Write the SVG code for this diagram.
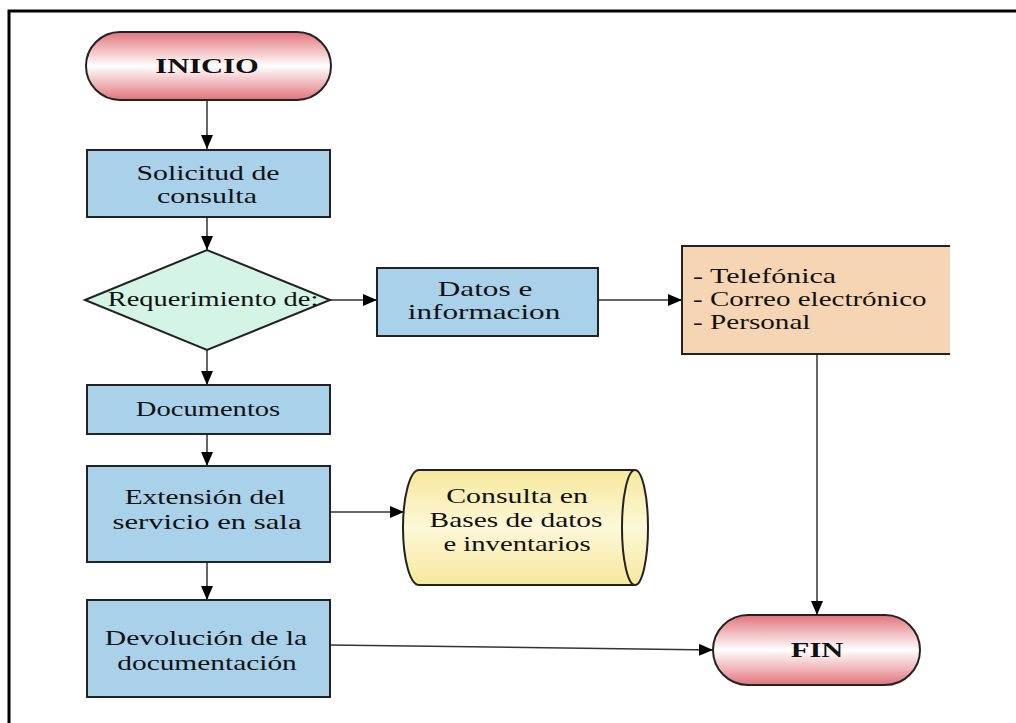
<svg xmlns="http://www.w3.org/2000/svg" width="1016" height="723" viewBox="0 0 1016 723">
<defs>
<linearGradient id="gRed" x1="0" y1="0" x2="0" y2="1">
<stop offset="0" stop-color="#e2747b"/>
<stop offset="0.5" stop-color="#ffffff"/>
<stop offset="1" stop-color="#e2747b"/>
</linearGradient>
<linearGradient id="gYel" x1="0" y1="0" x2="0" y2="1">
<stop offset="0" stop-color="#f6e89c"/>
<stop offset="0.5" stop-color="#fdf8d8"/>
<stop offset="1" stop-color="#f6e89c"/>
</linearGradient>
<marker id="arr" markerWidth="14" markerHeight="12" refX="14" refY="6" orient="auto" markerUnits="userSpaceOnUse">
<path d="M0,0 L14,6 L0,12 Z" fill="#000"/>
</marker>
<style>
.box{fill:#a9d1ea;stroke:#222;stroke-width:2}
.term{fill:url(#gRed);stroke:#222;stroke-width:2}
.t{font-family:"Liberation Serif","Times New Roman",serif;font-size:21px;fill:#111;text-anchor:middle}
.tl{font-family:"Liberation Serif","Times New Roman",serif;font-size:21px;fill:#111}
.b{font-weight:bold;font-size:20px}
.c{fill:none;stroke:#333;stroke-width:1.5}
</style>
</defs>
<rect x="0" y="0" width="1016" height="723" fill="#fff"/>
<path d="M9,723 V11 H1016" fill="none" stroke="#000" stroke-width="3"/>

<g id="connectors">
<line class="c" x1="207" y1="100" x2="207" y2="149" marker-end="url(#arr)"/>
<line class="c" x1="207" y1="217" x2="207" y2="250" marker-end="url(#arr)"/>
<line class="c" x1="330" y1="300" x2="377" y2="300" marker-end="url(#arr)"/>
<line class="c" x1="598" y1="300" x2="682" y2="300" marker-end="url(#arr)"/>
<line class="c" x1="207" y1="350" x2="207" y2="385" marker-end="url(#arr)"/>
<line class="c" x1="207" y1="434" x2="207" y2="466" marker-end="url(#arr)"/>
<line class="c" x1="330" y1="512" x2="404" y2="512" marker-end="url(#arr)"/>
<line class="c" x1="207" y1="562" x2="207" y2="600" marker-end="url(#arr)"/>
<line class="c" x1="330" y1="645" x2="713" y2="650" marker-end="url(#arr)"/>
<line class="c" x1="817" y1="354" x2="817" y2="615" marker-end="url(#arr)"/>
</g>

<g id="inicio">
<rect class="term" x="86" y="32" width="245" height="68" rx="34" ry="34"/>
<text class="t b" transform="matrix(1.5,0,0,1,207,73)" textLength="69" lengthAdjust="spacingAndGlyphs">INICIO</text>
</g>

<g id="solicitud">
<rect class="box" x="87" y="150" width="243" height="67"/>
<text class="t" transform="matrix(1.35,0,0,1,208,180)" textLength="106" lengthAdjust="spacingAndGlyphs">Solicitud de</text>
<text class="t" transform="matrix(1.35,0,0,1,207,203)" textLength="74" lengthAdjust="spacingAndGlyphs">consulta</text>
</g>

<g id="requerimiento">
<polygon points="85,300 207,250 330,300 207,350" fill="#d4f5e6" stroke="#222" stroke-width="2"/>
<text class="t" transform="matrix(1.35,0,0,1,213,306)" textLength="156" lengthAdjust="spacingAndGlyphs">Requerimiento de:</text>
</g>

<g id="datos">
<rect class="box" x="377" y="268" width="221" height="68"/>
<text class="t" transform="matrix(1.35,0,0,1,485,296)" textLength="70" lengthAdjust="spacingAndGlyphs">Datos e</text>
<text class="t" transform="matrix(1.35,0,0,1,484,319)" textLength="113" lengthAdjust="spacingAndGlyphs">informacion</text>
</g>

<g id="medios">
<rect x="682" y="246" width="268" height="108" fill="#f5d5b3"/>
<path d="M950,246 H682 V354 H950" fill="none" stroke="#222" stroke-width="2"/>
<text class="tl" transform="matrix(1.35,0,0,1,693,283)" textLength="106" lengthAdjust="spacingAndGlyphs">- Telefónica</text>
<text class="tl" transform="matrix(1.35,0,0,1,693,306)" textLength="173" lengthAdjust="spacingAndGlyphs">- Correo electrónico</text>
<text class="tl" transform="matrix(1.35,0,0,1,693,329)" textLength="87" lengthAdjust="spacingAndGlyphs">- Personal</text>
</g>

<g id="documentos">
<rect class="box" x="87" y="385" width="243" height="49"/>
<text class="t" transform="matrix(1.35,0,0,1,208,416)" textLength="107" lengthAdjust="spacingAndGlyphs">Documentos</text>
</g>

<g id="extension">
<rect class="box" x="87" y="466" width="243" height="96"/>
<text class="t" transform="matrix(1.35,0,0,1,205,504)" textLength="119" lengthAdjust="spacingAndGlyphs">Extensión del</text>
<text class="t" transform="matrix(1.35,0,0,1,207,529)" textLength="140" lengthAdjust="spacingAndGlyphs">servicio en sala</text>
</g>

<g id="consulta">
<path d="M419,470 H635 A13,57.5 0 0 1 635,585 H419 A16,57.5 0 0 1 419,470 Z" fill="url(#gYel)" stroke="#222" stroke-width="2"/>
<path d="M635,470 A13,57.5 0 0 0 635,585" fill="none" stroke="#222" stroke-width="2"/>
<text class="t" transform="matrix(1.35,0,0,1,517,503)" textLength="105" lengthAdjust="spacingAndGlyphs">Consulta en</text>
<text class="t" transform="matrix(1.35,0,0,1,516,527)" textLength="128" lengthAdjust="spacingAndGlyphs">Bases de datos</text>
<text class="t" transform="matrix(1.35,0,0,1,517,551)" textLength="109" lengthAdjust="spacingAndGlyphs">e inventarios</text>
</g>

<g id="devolucion">
<rect class="box" x="87" y="600" width="243" height="97"/>
<text class="t" transform="matrix(1.35,0,0,1,206,645)" textLength="150" lengthAdjust="spacingAndGlyphs">Devolución de la</text>
<text class="t" transform="matrix(1.35,0,0,1,207,670)" textLength="133" lengthAdjust="spacingAndGlyphs">documentación</text>
</g>

<g id="fin">
<rect class="term" x="713" y="615" width="207" height="70" rx="35" ry="35"/>
<text class="t b" transform="matrix(1.5,0,0,1,817,657)" textLength="35" lengthAdjust="spacingAndGlyphs">FIN</text>
</g>
</svg>
